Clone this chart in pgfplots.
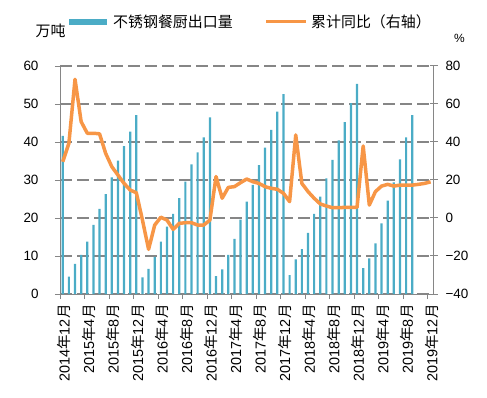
\documentclass[border=0pt]{standalone}
\usepackage{pgfplots}
\pgfplotsset{compat=1.18}
\usepackage{pgfplotstable}
\usepackage{fontspec}
\setmainfont{Liberation Sans}
\newfontfamily\cjk{Noto Sans CJK SC}
\definecolor{barc}{HTML}{4BACC6}
\definecolor{linec}{HTML}{F79646}
\definecolor{axc}{HTML}{868686}
\pgfplotstableread{
i v
0 41.6
1 4.6
2 7.9
3 10.3
4 13.8
5 18.2
6 22.4
7 26.3
8 30.7
9 35.1
10 38.9
11 42.7
12 47.1
13 4.4
14 6.6
15 9.8
16 13.8
17 17.7
18 21.1
19 25.2
20 29.6
21 34.1
22 37.3
23 41.2
24 46.5
25 4.7
26 6.5
27 10.3
28 14.5
29 19.6
30 24.3
31 28.7
32 33.9
33 38.5
34 43.2
35 48.0
36 52.6
37 5.0
38 9.1
39 11.8
40 16.1
41 21.1
42 25.6
43 30.4
44 35.3
45 40.4
46 45.2
47 50.2
48 55.3
49 6.8
50 9.4
51 13.3
52 18.6
53 24.6
54 29.4
55 35.4
56 41.2
57 47.1
}\bars
\pgfplotstableread{
i v
0 29.6
1 39.3
2 73
3 50.7
4 44.6
5 44.6
6 44.3
7 34
8 27
9 22.6
10 18.2
11 14.7
12 13.3
13 -1.1
14 -16.5
15 -3.7
16 0.4
17 -1.1
18 -6
19 -2.8
20 -2.5
21 -2.5
22 -3.7
23 -3.7
24 -1.1
25 21.8
26 10.4
27 16.1
28 16.5
29 18.6
30 20.5
31 19.1
32 18.2
33 16.5
34 15.6
35 15.1
36 13
37 8.6
38 43.7
39 18.2
40 13.9
41 10.4
42 7.4
43 6.3
44 5.4
45 5.4
46 5.6
47 5.6
48 5.6
49 37.9
50 6.8
51 13.9
52 16.8
53 17.7
54 16.8
55 17.3
56 17.3
57 17.3
58 17.7
59 18.2
60 19.0
}\yoy
\begin{document}
\begin{tikzpicture}
\path[use as bounding box] (-60bp,-104bp) rectangle (427bp,294bp);
\begin{axis}[
  at={(0,0)}, anchor=south west,
  width=374bp, height=228bp, scale only axis,
  xmin=0, xmax=61, ymin=0, ymax=60,
  ytick={0,10,...,60},
  xtick={0,4,...,60},
  xticklabels={2014{\cjk 年}12{\cjk 月},2015{\cjk 年}4{\cjk 月},2015{\cjk 年}8{\cjk 月},2015{\cjk 年}12{\cjk 月},2016{\cjk 年}4{\cjk 月},2016{\cjk 年}8{\cjk 月},2016{\cjk 年}12{\cjk 月},2017{\cjk 年}4{\cjk 月},2017{\cjk 年}8{\cjk 月},2017{\cjk 年}12{\cjk 月},2018{\cjk 年}4{\cjk 月},2018{\cjk 年}8{\cjk 月},2018{\cjk 年}12{\cjk 月},2019{\cjk 年}4{\cjk 月},2019{\cjk 年}8{\cjk 月},2019{\cjk 年}12{\cjk 月}},
  x tick label style={rotate=90, anchor=east, yshift=-4bp, xshift=-2bp, font=\fontsize{14.5}{16}\selectfont},
  y tick label style={font=\fontsize{13.5}{15}\selectfont, xshift=-13bp},
  /pgf/number format/assume math mode=true,
  axis x line*=bottom, axis y line*=left,
  axis line style={axc, line width=1pt, -},
  major tick style={axc, line width=1pt},
  major tick length=5bp, tick align=outside,
  ymajorgrids,
  grid style={axc, line width=1.1pt, dash pattern=on 12bp off 5bp},
  enlargelimits=false, clip=false,
]
\addplot[ybar, bar width=2.2bp, fill=barc, draw=none] table[x expr=\thisrow{i}+0.45, y=v] {\bars};
\end{axis}
\begin{axis}[
  at={(0,0)}, anchor=south west,
  width=374bp, height=228bp, scale only axis,
  xmin=0, xmax=61, ymin=-40, ymax=80,
  ytick={-40,-20,...,80},
  yticklabels={−40,−20,0,20,40,60,80},
  y tick label style={font=\fontsize{13.5}{15}\selectfont, xshift=4bp},
  axis y line*=right, hide x axis,
  axis line style={axc, line width=1pt, -},
  major tick style={axc, line width=1pt},
  major tick length=8bp, tick align=center,
  enlargelimits=false,
]
\addplot[linec, line width=3.5bp, line join=round, mark=none] table[x expr=\thisrow{i}+0.45, y=v] {\yoy};
\end{axis}
\fill[barc] (9bp,269bp) rectangle (47bp,275bp);
\node[anchor=west, inner sep=0pt, font=\cjk\fontsize{15}{17}\selectfont] at (53bp,272bp) {不锈钢餐厨出口量};
\draw[linec, line width=3bp] (206bp,272.3bp) -- (246bp,272.3bp);
\node[anchor=west, inner sep=0pt, font=\cjk\fontsize{15}{17}\selectfont] at (251bp,272bp) {累计同比（右轴）};
\node[inner sep=0pt, font=\cjk\fontsize{15}{17}\selectfont] at (-9.5bp,263bp) {万吨};
\node[inner sep=0pt, font=\fontsize{12}{14}\selectfont] at (399.5bp,256bp) {\%};
\end{tikzpicture}
\end{document}
